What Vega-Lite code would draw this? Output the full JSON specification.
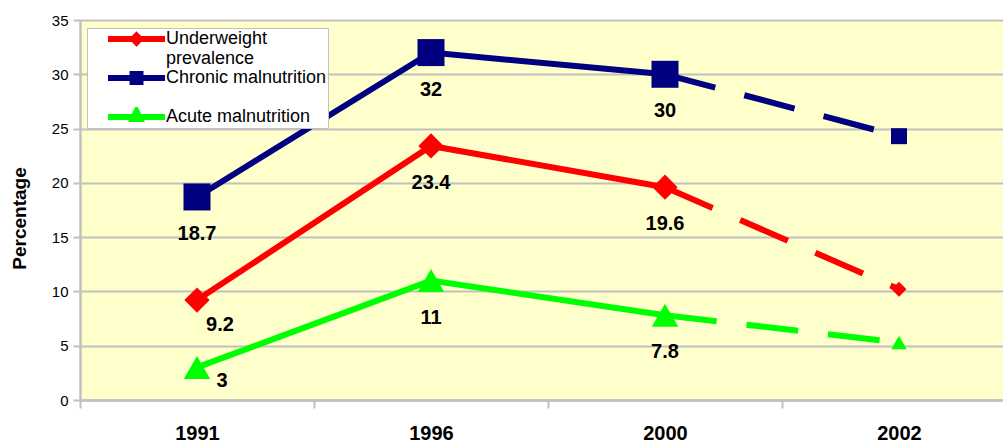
{
  "$schema": "https://vega.github.io/schema/vega-lite/v6.json",
  "autosize": {"type": "none"},
  "width": 936,
  "height": 380,
  "padding": {"left": 80, "top": 20, "right": 0, "bottom": 42},
  "background": "white",
  "config": {
    "view": {"fill": "#FFFFCC", "stroke": null},
    "font": "Liberation Sans"
  },
  "data": {
    "values": [
      {"year": "1991", "series": "Underweight prevalence", "value": 9.2},
      {"year": "1996", "series": "Underweight prevalence", "value": 23.4},
      {"year": "2000", "series": "Underweight prevalence", "value": 19.6},
      {"year": "2002", "series": "Underweight prevalence", "value": 10.2},
      {"year": "1991", "series": "Chronic malnutrition", "value": 18.7},
      {"year": "1996", "series": "Chronic malnutrition", "value": 32},
      {"year": "2000", "series": "Chronic malnutrition", "value": 30},
      {"year": "2002", "series": "Chronic malnutrition", "value": 24.3},
      {"year": "1991", "series": "Acute malnutrition", "value": 3},
      {"year": "1996", "series": "Acute malnutrition", "value": 11},
      {"year": "2000", "series": "Acute malnutrition", "value": 7.8},
      {"year": "2002", "series": "Acute malnutrition", "value": 5.3}
    ]
  },
  "encoding": {
    "x": {
      "field": "year", "type": "ordinal",
      "scale": {"type": "band", "paddingInner": 0, "paddingOuter": 0},
      "axis": {
        "title": null, "labelAngle": 0,
        "labelFont": "Liberation Sans", "labelFontSize": 20, "labelFontWeight": "bold", "labelColor": "black",
        "labelPadding": 15,
        "tickBand": "extent", "tickSize": 8, "tickColor": "#C0C0C0", "tickWidth": 2,
        "domainColor": "#C0C0C0", "domainWidth": 2.5, "grid": false
      }
    },
    "y": {
      "field": "value", "type": "quantitative",
      "scale": {"domain": [0, 35], "nice": false},
      "axis": {
        "title": "Percentage", "titleFont": "Liberation Sans", "titleFontSize": 19, "titleFontWeight": "bold", "titleColor": "black",
        "titlePadding": 22, "titleY": 198,
        "values": [0, 5, 10, 15, 20, 25, 30, 35],
        "labelFont": "Liberation Sans", "labelFontSize": 15, "labelColor": "black", "labelPadding": 5,
        "tickSize": 7, "tickColor": "#C0C0C0", "tickWidth": 2,
        "domainColor": "#C0C0C0", "domainWidth": 2.5,
        "grid": true, "gridColor": "#C0C0C0", "gridWidth": 2
      }
    }
  },
  "layer": [
    {
      "transform": [{"filter": "datum.year != '2002'"}],
      "mark": {"type": "line", "strokeWidth": 6, "strokeCap": "butt"},
      "encoding": {
        "color": {
          "field": "series", "type": "nominal",
          "scale": {"domain": ["Underweight prevalence", "Chronic malnutrition", "Acute malnutrition"], "range": ["#FF0000", "#000080", "#00FF00"]},
          "legend": {
            "title": null,
            "orient": "none", "legendX": 7, "legendY": 8,
            "fillColor": "white", "strokeColor": "#C0C0C0",
            "padding": 1,
            "labelFont": "Liberation Sans", "labelFontSize": 18, "labelColor": "black", "labelLimit": 400,
            "labelExpr": "datum.label == 'Underweight prevalence' ? ['Underweight', 'prevalence'] : datum.label == 'Chronic malnutrition' ? ['Chronic malnutrition\u00a0\u00a0\u00a0\u00a0', ''] : datum.label",
            "symbolSize": 3249, "symbolStrokeWidth": 6,
            "symbolType": {"expr": "datum.value == 'Underweight prevalence' ? 'M-1,0H1M0,-0.12L0.12,0L0,0.12L-0.12,0Z' : datum.value == 'Chronic malnutrition' ? 'M-1,0H1M-0.14,-0.14H0.14V0.14H-0.14Z' : 'M-1,0H1M0,-0.2L0.13,0.07L-0.13,0.07Z'"},
            "clipHeight": 20, "rowPadding": 0, "symbolOffset": 17, "labelOffset": -2
          }
        }
      }
    },
    {
      "transform": [{"filter": "datum.year == '2000' || datum.year == '2002'"}],
      "mark": {"type": "line", "strokeWidth": 6, "strokeCap": "butt", "strokeDash": [52, 30]},
      "encoding": {"color": {"field": "series", "type": "nominal"}}
    },
    {
      "transform": [{"filter": "datum.series == 'Underweight prevalence'"}],
      "mark": {"type": "point", "shape": "diamond", "filled": true, "opacity": 1},
      "encoding": {
        "color": {"field": "series", "type": "nominal"},
        "size": {"condition": {"test": "datum.year == '2002'", "value": 225}, "value": 640}
      }
    },
    {
      "transform": [{"filter": "datum.series == 'Chronic malnutrition'"}],
      "mark": {"type": "point", "shape": "square", "filled": true, "opacity": 1},
      "encoding": {
        "color": {"field": "series", "type": "nominal"},
        "size": {"condition": {"test": "datum.year == '2002'", "value": 256}, "value": 729}
      }
    },
    {
      "transform": [{"filter": "datum.series == 'Acute malnutrition'"}],
      "mark": {"type": "point", "shape": "triangle-up", "filled": true, "opacity": 1},
      "encoding": {
        "color": {"field": "series", "type": "nominal"},
        "size": {"condition": {"test": "datum.year == '2002'", "value": 240}, "value": 700}
      }
    },
    {
      "transform": [{"filter": "datum.year != '2002' && !(datum.year == '1991' && datum.series != 'Chronic malnutrition')"}],
      "mark": {"type": "text", "dy": 37, "font": "Liberation Sans", "fontSize": 20, "fontWeight": "bold", "color": "black"},
      "encoding": {"text": {"field": "value", "type": "quantitative"}}
    },
    {
      "transform": [{"filter": "datum.year == '1991' && datum.series == 'Underweight prevalence'"}],
      "mark": {"type": "text", "dx": 23, "dy": 25, "font": "Liberation Sans", "fontSize": 20, "fontWeight": "bold", "color": "black"},
      "encoding": {"text": {"field": "value", "type": "quantitative"}}
    },
    {
      "transform": [{"filter": "datum.year == '1991' && datum.series == 'Acute malnutrition'"}],
      "mark": {"type": "text", "dx": 25, "dy": 14, "font": "Liberation Sans", "fontSize": 20, "fontWeight": "bold", "color": "black"},
      "encoding": {"text": {"field": "value", "type": "quantitative"}}
    }
  ]
}
